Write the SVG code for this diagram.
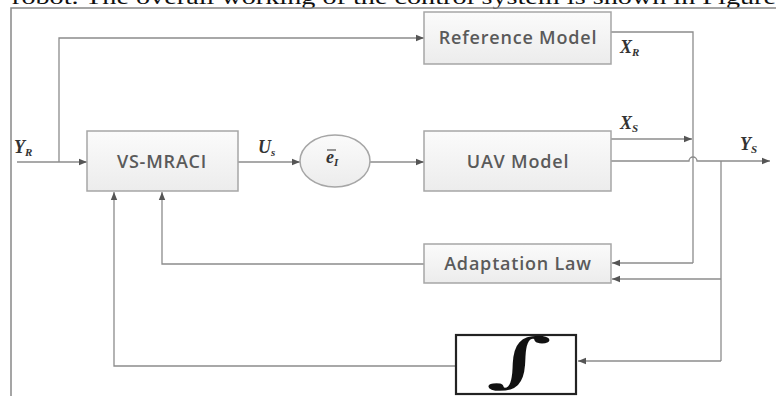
<svg xmlns="http://www.w3.org/2000/svg" width="776" height="396" viewBox="0 0 776 396">
<defs>
<linearGradient id="bg" x1="0" y1="0" x2="0" y2="1"><stop offset="0" stop-color="#fbfbfb"/><stop offset="1" stop-color="#ececec"/></linearGradient>
<marker id="ah" viewBox="0 0 10 10" refX="10" refY="5" markerWidth="8" markerHeight="8" markerUnits="userSpaceOnUse" orient="auto"><path d="M0,1 L10,5 L0,9 Z" fill="#555"/></marker>
<style>
.box{fill:url(#bg);stroke:#a6a6a6;stroke-width:1.5}
.lbl{font-family:"Open Sans","Liberation Sans",sans-serif;font-size:18px;font-weight:600;letter-spacing:0.8px;fill:#5a5a5a;text-anchor:middle}
.var{font-family:"Liberation Serif",serif;font-weight:bold;font-style:italic;font-size:18px;fill:#333}
.sub{font-size:11px}
.ln{fill:none;stroke:#8c8c8c;stroke-width:1.3}
.arr{marker-end:url(#ah)}
</style>
</defs>
<rect width="776" height="396" fill="#fff"/>
<text x="12" y="4" font-family="Liberation Serif,serif" font-size="21" fill="#111" textLength="764" lengthAdjust="spacingAndGlyphs">robot. The overall working of the control system is shown in Figure</text>
<g id="frame">
<path d="M11,396 V8 H776" fill="none" stroke="#888" stroke-width="1.5"/>
</g>
<g id="connectors">
<path class="ln arr" d="M17,162 H87"/>
<path class="ln arr" d="M59,162 V38 H424"/>
<path class="ln arr" d="M238,162 H300"/>
<path class="ln arr" d="M370,162 H424"/>
<path class="ln arr" d="M611,139 H692"/>
<path class="ln" d="M611,32 H693 V263"/>
<path class="ln arr" d="M693,263 H612"/>
<path class="ln arr" d="M611,161 H689 A4,4 0 0 1 697,161 H770"/>
<path class="ln" d="M721,161 V361"/>
<path class="ln arr" d="M721,279 H612"/>
<path class="ln arr" d="M721,361 H578"/>
<path class="ln arr" d="M424,264 H162 V192"/>
<path class="ln arr" d="M456,366 H114 V192"/>
</g>
<g id="reference-model">
<rect class="box" x="424" y="12" width="187" height="52"/>
<text class="lbl" x="518" y="44">Reference Model</text>
</g>
<g id="vs-mraci">
<rect class="box" x="87" y="131" width="151" height="60"/>
<text class="lbl" x="162" y="168">VS-MRACI</text>
</g>
<g id="error">
<ellipse cx="335" cy="161" rx="35" ry="26" fill="url(#bg)" stroke="#a6a6a6" stroke-width="1.5"/>
<text class="var" x="326" y="163">e<tspan class="sub" dy="3">I</tspan></text>
<path d="M327,150 H336" stroke="#333" stroke-width="1"/>
</g>
<g id="uav-model">
<rect class="box" x="424" y="131" width="187" height="60"/>
<text class="lbl" x="518" y="168">UAV Model</text>
</g>
<g id="adaptation-law">
<rect class="box" x="424" y="244" width="187" height="39"/>
<text class="lbl" x="518" y="270">Adaptation Law</text>
</g>
<g id="integrator">
<rect x="456" y="335" width="120" height="59" fill="#fff" stroke="#222" stroke-width="2.2"/>
<text x="0" y="0" transform="translate(519,380) scale(2.3,1.05)" font-family="DejaVu Serif,serif" font-size="56" fill="#111" text-anchor="middle">∫</text>
</g>
<g id="labels">
<text class="var" x="14" y="153">Y<tspan class="sub" dy="3">R</tspan></text>
<text class="var" x="258" y="153">U<tspan class="sub" dy="3">s</tspan></text>
<text class="var" x="620" y="53">X<tspan class="sub" dy="3">R</tspan></text>
<text class="var" x="620" y="129">X<tspan class="sub" dy="3">S</tspan></text>
<text class="var" x="740" y="150">Y<tspan class="sub" dy="3">S</tspan></text>
</g>
</svg>
